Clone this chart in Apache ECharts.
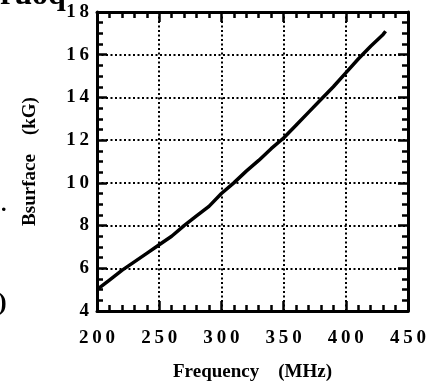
<!DOCTYPE html>
<html>
<head>
<meta charset="utf-8">
<script src="https://cdn.jsdelivr.net/npm/echarts@6/dist/echarts.min.js"></script>
<style>
  html, body { margin: 0; padding: 0; background: #fff; }
  #chart { width: 448px; height: 384px; }
</style>
</head>
<body>
<div id="chart"></div>
<script>
// values
const freqMHz = [200, 210, 220, 230, 240, 250, 260, 270, 280, 290, 300, 310, 320, 330, 340, 350, 360, 370, 380, 390, 400, 410, 420, 430, 432];
const bSurfaceKG = [5.0, 5.45, 5.9, 6.3, 6.7, 7.1, 7.5, 8.0, 8.45, 8.9, 9.5, 10.0, 10.55, 11.05, 11.6, 12.1, 12.7, 13.3, 13.9, 14.5, 15.15, 15.8, 16.4, 16.95, 17.1];
const xTicks = [200, 250, 300, 350, 400, 450];
const yTicks = [4, 6, 8, 10, 12, 14, 16, 18];

const font = 'Liberation Serif';
const spaced = v => String(v).split('').join('\u2009');

const myChart = echarts.init(document.getElementById('chart'));

const axisLine = { show: true, lineStyle: { color: '#000', width: 3 } };
const majorTick = { show: true, inside: true, length: 10, lineStyle: { color: '#000', width: 2.5 } };
const minorTick = { show: true, splitNumber: 5, length: 6, lineStyle: { color: '#000', width: 2.5 } };
const dotted = { show: true, lineStyle: { color: '#000', width: 2, type: [2, 2.5] } };
const labelStyle = { color: '#000', fontFamily: font, fontWeight: 'bold', fontSize: 19 };

const option = {
  animation: false,
  backgroundColor: '#fff',
  grid: { left: 97, right: 40, top: 12, bottom: 73, outerBoundsMode: 'none' },
  xAxis: [
    {
      type: 'value', min: xTicks[0], max: xTicks[xTicks.length - 1], interval: 50,
      position: 'bottom',
      name: 'Frequency    (MHz)', nameLocation: 'middle', nameGap: 52,
      nameTextStyle: { color: '#000', fontFamily: font, fontWeight: 'bold', fontSize: 19 },
      axisLine, axisTick: majorTick, minorTick,
      splitLine: dotted,
      axisLabel: Object.assign({ margin: 18, formatter: spaced }, labelStyle),
    },
    {
      type: 'value', min: xTicks[0], max: xTicks[xTicks.length - 1], interval: 50,
      position: 'top',
      axisLine, axisTick: majorTick, minorTick,
      splitLine: { show: false }, axisLabel: { show: false },
    },
  ],
  yAxis: [
    {
      type: 'value', min: yTicks[0], max: yTicks[yTicks.length - 1], interval: 2,
      position: 'left',
      name: 'Bsurface    (kG)', nameLocation: 'middle', nameGap: 57, nameRotate: 90,
      nameTextStyle: { color: '#000', fontFamily: font, fontWeight: 'bold', fontSize: 19 },
      axisLine, axisTick: majorTick,
      minorTick: Object.assign({}, minorTick, { splitNumber: 4 }),
      splitLine: dotted,
      axisLabel: Object.assign({ margin: 8, formatter: spaced }, labelStyle),
    },
    {
      type: 'value', min: yTicks[0], max: yTicks[yTicks.length - 1], interval: 2,
      position: 'right',
      axisLine, axisTick: majorTick,
      minorTick: Object.assign({}, minorTick, { splitNumber: 4 }),
      splitLine: { show: false }, axisLabel: { show: false },
    },
  ],
  series: [
    {
      type: 'line',
      data: freqMHz.map((f, i) => [f, bSurfaceKG[i]]),
      showSymbol: false,
      lineStyle: { color: '#000', width: 3.5 },
      z: 5,
    },
  ],
  graphic: [
    // fragments of neighbouring text cut off by the scan
    { type: 'text', left: 0, top: -20, style: { text: 'ruoq', font: 'bold 32px "Liberation Serif"', fill: '#000' } },
    { type: 'text', left: 1, top: 194, style: { text: '.', font: 'bold 22px "Liberation Serif"', fill: '#000' } },
    { type: 'text', left: -2, top: 290, style: { text: ')', font: 'bold 26px "Liberation Serif"', fill: '#000' } },
  ],
};
myChart.setOption(option);
</script>
</body>
</html>
